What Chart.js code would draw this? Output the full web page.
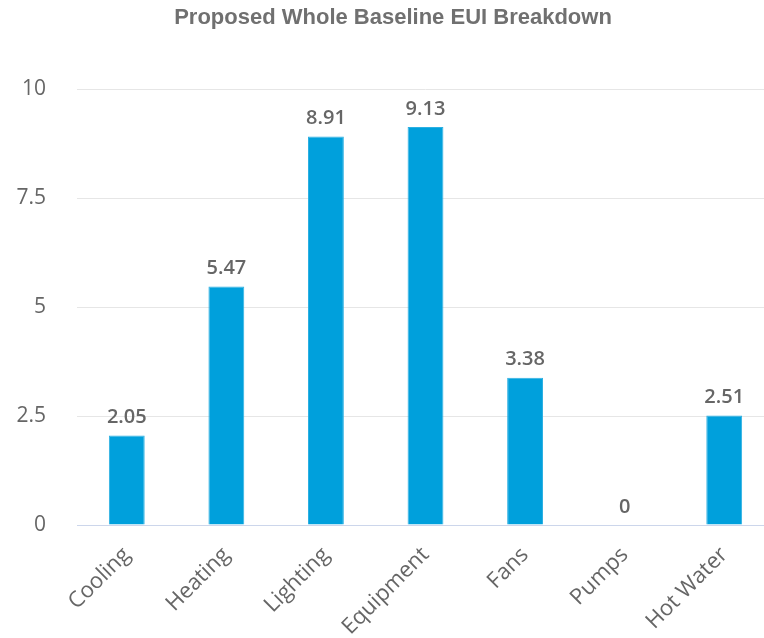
<!DOCTYPE html>
<html>
<head>
<meta charset="utf-8">
<script src="https://cdn.jsdelivr.net/npm/chart.js@4/dist/chart.umd.min.js"></script>
<style>
  html, body { margin: 0; padding: 0; background: #fff; overflow: hidden; }
</style>
</head>
<body>
<canvas id="chart" width="786" height="638"></canvas>
<script>

const chartTitle = 'Proposed Whole Baseline EUI Breakdown'
const categories = ['Cooling', 'Heating', 'Lighting', 'Equipment', 'Fans', 'Pumps', 'Hot Water']
const euiValues  = [2.05, 5.47, 8.91, 9.13, 3.38, 0, 2.51]
const yTicks     = [0, 2.5, 5, 7.5, 10]

const textGray = '#666666'


//draw the value over each bar
const barValues = {
      id: 'barValues',
      afterDatasetsDraw(chart){
            const ctx = chart.ctx
            ctx.save()
            ctx.font = '600 20px "Open Sans"'
            ctx.fillStyle = textGray
            ctx.textAlign = 'center'
            ctx.textBaseline = 'bottom'
            chart.getDatasetMeta(0).data.forEach((bar, i)=>{
                  ctx.fillText(String(euiValues[i]), bar.x, bar.y - 8)
            })
            ctx.restore()
      }
}


const setup = {
      type: 'bar',
      data: {
            labels: categories,
            datasets: [{
                  label: 'EUI',
                  data: euiValues,
                  backgroundColor: '#00A0DC',
                  borderColor: '#2cb0e2',
                  borderWidth: 1,
                  categoryPercentage: 1,
                  barPercentage: 0.36,
            }]
      },
      options: {
            responsive: false,
            animation: false,
            layout: { padding: { top: 0, left: 12, right: 12, bottom: 0 } },
            plugins: {
                  legend: { display: false },
                  tooltip: { enabled: false },
                  title: {
                        display: true,
                        text: chartTitle,
                        color: '#707070',
                        font: { family: '"Liberation Sans", Arial, sans-serif', size: 22, weight: 'bold', lineHeight: 1.2 },
                        padding: { top: 5, bottom: 57.6 },
                  },
            },
            scales: {
                  x: {
                        grid: { display: false },
                        border: { display: true, color: '#ccd6eb', width: 1 },
                        ticks: {
                              color: textGray,
                              font: { family: '"Open Sans"', size: 22 },
                              minRotation: 45,
                              maxRotation: 45,
                              padding: 9,
                        },
                        afterFit(scale){ scale.height = 113 },
                  },
                  y: {
                        min: 0,
                        max: 10,
                        border: { display: false },
                        grid: {
                              drawTicks: false,
                              color: (c)=> c.tick && c.tick.value === 0 ? '#ccd6eb' : '#e6e6e6',
                        },
                        afterBuildTicks(scale){ scale.ticks = yTicks.map(v => ({ value: v })) },
                        ticks: {
                              color: textGray,
                              font: { family: '"Open Sans"', size: 21 },
                              padding: 31,
                              callback: (v)=> String(v),
                        },
                        afterFit(scale){ scale.width = 65 },
                  },
            },
      },
      plugins: [barValues],
}

new Chart(document.getElementById('chart'), setup)

</script>
</body>
</html>
